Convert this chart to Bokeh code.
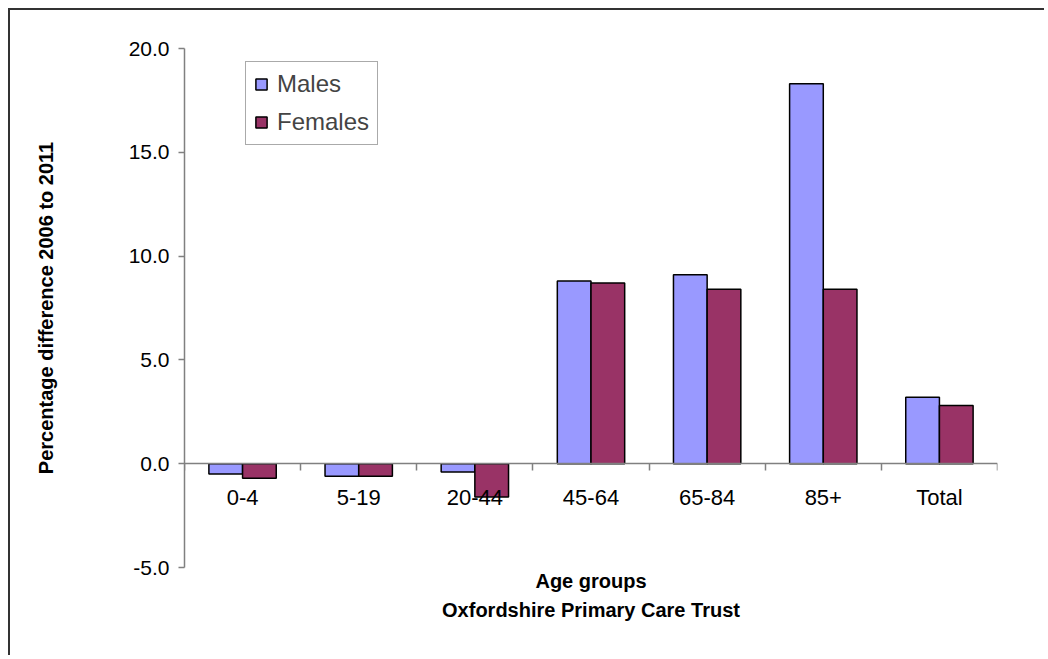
from bokeh.plotting import figure
from bokeh.models import (Range1d, LinearAxis, FixedTicker, Title,
                          ColumnDataSource, NumeralTickFormatter)
from bokeh.transform import dodge
from bokeh.embed import file_html
from bokeh.resources import INLINE

categories = ["0-4", "5-19", "20-44", "45-64", "65-84", "85+", "Total"]
males = [-0.5, -0.6, -0.4, 8.8, 9.1, 18.3, 3.2]
females = [-0.7, -0.6, -1.6, 8.7, 8.4, 8.4, 2.8]
y_ticks = [-5, 0, 5, 10, 15, 20]

FONT = "Liberation Sans"
MALE_COLOR = "#9999FF"
FEMALE_COLOR = "#993366"
AXIS_GRAY = "#808080"

n = len(categories)
centers = [i + 0.5 for i in range(n)]
src = ColumnDataSource(dict(pos=centers, cat=categories, males=males, females=females))

p = figure(width=1036, height=647, title=None,
           x_range=Range1d(0, n), y_range=Range1d(-5, 20),
           x_axis_type=None,
           output_backend="svg", toolbar_location=None,
           min_border_left=174, min_border_right=49,
           min_border_top=38, min_border_bottom=90)

p.styles = {"margin-left": "8px", "margin-top": "8px",
            "border-top": "2px solid #333333", "border-left": "2px solid #333333"}

p.vbar(x=dodge("pos", -0.145), top="males", width=0.29, source=src,
       fill_color=MALE_COLOR, line_color="black", line_width=1.5, legend_label="Males")
p.vbar(x=dodge("pos", 0.145), top="females", width=0.29, source=src,
       fill_color=FEMALE_COLOR, line_color="black", line_width=1.5, legend_label="Females")

# category labels axis at zero
label_axis = LinearAxis(ticker=FixedTicker(ticks=centers), fixed_location=0,
                        major_label_overrides={c: lab for c, lab in zip(centers, categories)},
                        axis_line_color=AXIS_GRAY, axis_line_width=1.5,
                        major_tick_line_color=None, minor_tick_line_color=None,
                        major_label_text_font=FONT, major_label_text_font_size="22px",
                        major_label_text_color="black", major_label_standoff=15)
p.add_layout(label_axis, "below")

# boundary tick marks
bounds = list(range(n + 1))
tick_axis = LinearAxis(ticker=FixedTicker(ticks=bounds),
                       fixed_location=0, axis_line_color=None,
                       major_tick_line_color=AXIS_GRAY, major_tick_line_width=1.5,
                       major_tick_out=7, major_tick_in=0,
                       minor_tick_line_color=None,
                       major_label_overrides={b: "" for b in bounds})
p.add_layout(tick_axis, "below")

ya = p.yaxis[0]
ya.ticker = FixedTicker(ticks=y_ticks)
ya.formatter = NumeralTickFormatter(format="0.0")
ya.axis_line_color = AXIS_GRAY
ya.axis_line_width = 1.5
ya.major_tick_line_color = AXIS_GRAY
ya.major_tick_line_width = 1.5
ya.major_tick_out = 6
ya.major_tick_in = 0
ya.minor_tick_line_color = None
ya.major_label_text_font = FONT
ya.major_label_text_font_size = "21px"
ya.major_label_text_color = "black"
ya.major_label_standoff = 9
ya.axis_label = "Percentage difference 2006 to 2011"
ya.axis_label_text_font = FONT
ya.axis_label_text_font_size = "20px"
ya.axis_label_text_font_style = "bold"
ya.axis_label_text_color = "black"
ya.axis_label_standoff = 69

p.xgrid.visible = False
p.ygrid.visible = False
p.outline_line_color = None

p.add_layout(Title(text="Age groups", align="center", text_font=FONT, text_color="black",
                   text_font_size="20px", text_font_style="bold", standoff=0), "below")
p.add_layout(Title(text="Oxfordshire Primary Care Trust", align="center", text_font=FONT,
                   text_color="black",
                   text_font_size="20px", text_font_style="bold", standoff=10), "below")

lg = p.legend[0]
lg.location = (61, 422)
lg.border_line_color = "#555555"
lg.border_line_width = 1.5
lg.background_fill_alpha = 1
lg.label_text_font = FONT
lg.label_text_font_size = "24px"
lg.glyph_width = 14
lg.glyph_height = 14
lg.label_standoff = 9
lg.padding = 8
lg.spacing = 10
lg.margin = 0

open("out.html", "w").write(file_html(p, INLINE))
